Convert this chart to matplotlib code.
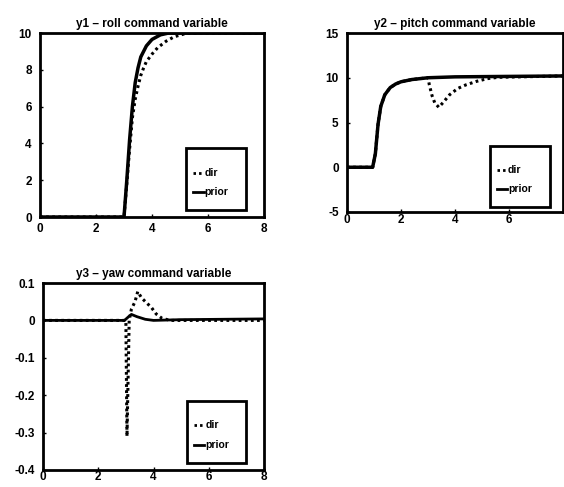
import matplotlib
matplotlib.use("Agg")
import matplotlib.pyplot as plt
from matplotlib.patches import Rectangle
from matplotlib.lines import Line2D

plt.rcParams['font.family'] = ['Liberation Sans', 'DejaVu Sans']
plt.rcParams['font.weight'] = 'bold'

# ---- data ----
titles = ["y1 – roll command variable", "y2 – pitch command variable", "y3 – yaw command variable"]
legend_labels = ["dir", "prior"]

# y1 roll
y1_prior_t = [0, 3.0, 3.1, 3.2, 3.3, 3.4, 3.5, 3.6, 3.8, 4.0, 4.3, 4.6, 5.0, 8.0]
y1_prior_v = [0, 0, 2.0, 4.2, 6.0, 7.3, 8.1, 8.7, 9.3, 9.65, 9.9, 10.0, 10.0, 10.0]
y1_dir_t = [0, 3.0, 3.1, 3.2, 3.3, 3.4, 3.5, 3.6, 3.7, 3.8, 4.0, 4.2, 4.5, 4.8, 5.2, 5.6, 8.0]
y1_dir_v = [0, 0, 1.8, 3.7, 5.4, 6.4, 7.1, 7.7, 8.1, 8.45, 8.85, 9.2, 9.55, 9.8, 9.97, 10.0, 10.0]

# y2 pitch
y2_prior_t = [0, 0.95, 1.05, 1.15, 1.25, 1.4, 1.6, 1.8, 2.0, 2.4, 3.0, 4.0, 8.0]
y2_prior_v = [0, 0, 1.5, 4.8, 6.8, 8.1, 8.9, 9.3, 9.55, 9.8, 10.0, 10.1, 10.2]
y2_dir_t = [0, 0.95, 1.05, 1.15, 1.25, 1.4, 1.6, 1.8, 2.0, 2.4, 3.0, 3.05, 3.15, 3.25,
            3.4, 3.55, 3.8, 4.1, 4.4, 4.8, 5.2, 5.6, 8.0]
y2_dir_v = [0, 0, 1.5, 4.8, 6.8, 8.1, 8.9, 9.3, 9.55, 9.8, 10.0, 9.2, 8.0, 7.2,
            6.7, 7.2, 8.1, 8.8, 9.2, 9.6, 9.9, 10.05, 10.2]

# y3 yaw
y3_prior_t = [0, 2.95, 3.1, 3.2, 3.4, 3.7, 4.0, 5.0, 8.0]
y3_prior_v = [0, 0, 0.01, 0.016, 0.01, 0.003, 0.0, 0.002, 0.004]
y3_dir_t = [0, 3.0, 3.04, 3.12, 3.2, 3.33, 3.43, 3.57, 3.75, 3.93, 4.1, 4.3, 4.6, 8.0]
y3_dir_v = [0, 0, -0.31, 0.0, 0.03, 0.05, 0.077, 0.06, 0.047, 0.034, 0.017, 0.006, 0.0, 0.0]

x_ticks = [0, 2, 4, 6, 8]
x_ticklabels = ["0", "2", "4", "6", "8"]
y1_ticks = [0, 2, 4, 6, 8, 10]
y1_ticklabels = ["0", "2", "4", "6", "8", "10"]
y2_ticks = [-5, 0, 5, 10, 15]
y2_ticklabels = ["-5", "0", "5", "10", "15"]
y3_ticks = [-0.4, -0.3, -0.2, -0.1, 0, 0.1]
y3_ticklabels = ["-0.4", "-0.3", "-0.2", "-0.1", "0", "0.1"]

W, H = 564, 487
fig = plt.figure(figsize=(W / 100, H / 100), dpi=100)

def px(l, r, t, b):
    return [l / W, 1 - b / H, (r - l) / W, (b - t) / H]

ax1 = fig.add_axes(px(40, 264, 33, 217))
ax2 = fig.add_axes(px(347, 563, 33, 212))
ax3 = fig.add_axes(px(43, 264, 283, 470))

DOT = (0, (0.9, 1.1))

def style(ax, title, xpad):
    for s in ax.spines.values():
        s.set_linewidth(2.0)
    ax.tick_params(direction='in', length=2, width=1, labelsize=8.5)
    ax.tick_params(axis='x', pad=xpad)
    ax.tick_params(axis='y', pad=6)
    for lab in ax.get_xticklabels() + ax.get_yticklabels():
        lab.set_fontweight('bold')
    ax.set_title(title, fontsize=8.5, fontweight='bold', pad=4)
    ax.set_xlim(0, 8)

def legend_box(ax, box):
    x0, y0, w, h = box
    ax.add_patch(Rectangle((x0, y0), w, h, transform=ax.transAxes, fill=False,
                           lw=2.0, ec='black', zorder=5, clip_on=False))
    hx0 = x0 + 0.035
    hx1 = hx0 + 0.045
    for i, (lab, ls) in enumerate(zip(legend_labels, [DOT, '-'])):
        yy = y0 + h * (0.6 - 0.31 * i)
        ax.add_line(Line2D([hx0, hx1], [yy, yy], transform=ax.transAxes, color='black',
                           ls=ls, lw=2.0, zorder=6))
        ax.text(hx1 + 0.005, yy, lab, transform=ax.transAxes, fontsize=7.5,
                fontweight='bold', va='center', ha='left', zorder=6)

# subplot 1
ax1.plot(y1_dir_t, y1_dir_v, color='black', ls=DOT, lw=2.2)
ax1.plot(y1_prior_t, y1_prior_v, color='black', ls='-', lw=2.5)
ax1.set_ylim(0, 10)
ax1.set_xticks(x_ticks)
ax1.set_xticklabels(x_ticklabels)
ax1.set_yticks(y1_ticks)
ax1.set_yticklabels(y1_ticklabels)
style(ax1, titles[0], 4.5)
legend_box(ax1, (0.65, 0.04, 0.27, 0.335))

# subplot 2
ax2.plot(y2_dir_t, y2_dir_v, color='black', ls=DOT, lw=2.2)
ax2.plot(y2_prior_t, y2_prior_v, color='black', ls='-', lw=2.5)
ax2.set_ylim(-5, 15)
ax2.set_xticks(x_ticks)
ax2.set_xticklabels(x_ticklabels[:-1] + [""])
ax2.set_yticks(y2_ticks)
ax2.set_yticklabels(y2_ticklabels)
style(ax2, titles[1], 1.5)
legend_box(ax2, (0.66, 0.03, 0.28, 0.34))

# subplot 3
ax3.plot(y3_dir_t, y3_dir_v, color='black', ls=DOT, lw=2.2)
ax3.plot(y3_prior_t, y3_prior_v, color='black', ls='-', lw=2.0)
ax3.set_ylim(-0.4, 0.1)
ax3.set_xticks(x_ticks)
ax3.set_xticklabels(x_ticklabels)
ax3.set_yticks(y3_ticks)
ax3.set_yticklabels(y3_ticklabels)
style(ax3, titles[2], 1.0)
legend_box(ax3, (0.65, 0.04, 0.27, 0.33))

fig.savefig("out.png", dpi=100)
